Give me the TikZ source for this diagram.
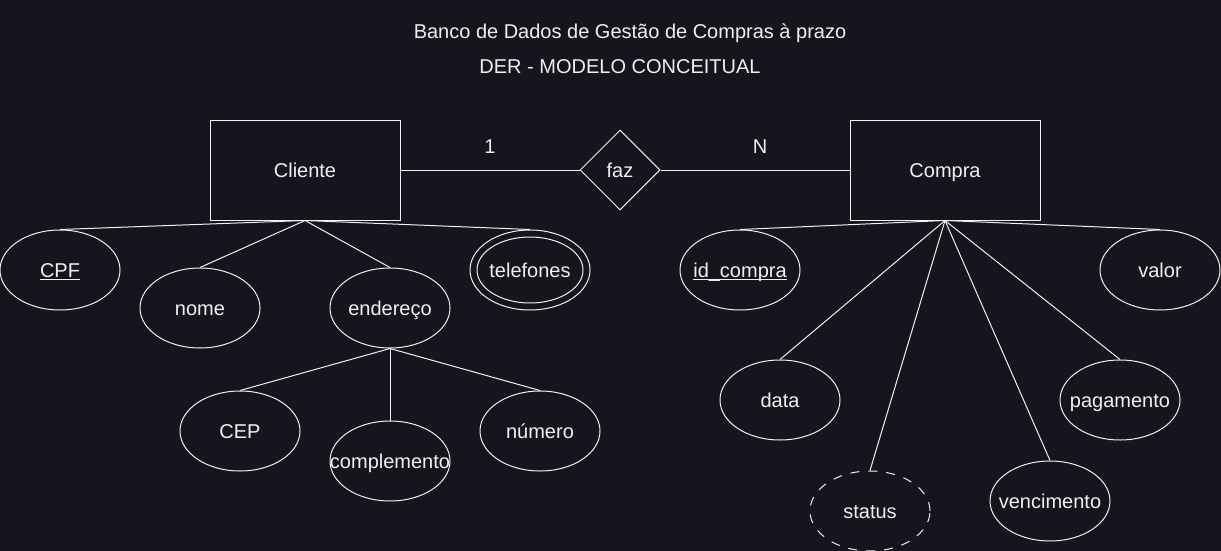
\documentclass[tikz,border=0pt]{standalone}
\usepackage{fontspec}
\setmainfont{Liberation Sans}
\usetikzlibrary{shapes.geometric}
\definecolor{bgdark}{HTML}{18141D}
\definecolor{fgline}{HTML}{F0F0F0}
\newcommand{\keyattr}[1]{\underline{\smash{#1}}}

\begin{document}
\begin{tikzpicture}[x=1pt,y=-1pt,
            every node/.style={text=fgline,font=\fontsize{20}{24}\selectfont,text height=15pt,text depth=0pt},
            entity/.style={draw=fgline,line width=1pt,minimum width=190pt,minimum height=100pt,inner sep=0pt},
            relation/.style={draw=fgline,line width=1pt,diamond,minimum width=80pt,minimum height=80pt,inner sep=0pt},
            attrib/.style={draw=fgline,line width=1pt,ellipse,minimum width=120pt,minimum height=80pt,inner xsep=-45pt,inner ysep=0pt},
            link/.style={draw=fgline,line width=1pt}]
            \fill[bgdark] (0,0) rectangle (1221,551);
            \useasboundingbox (0,0) rectangle (1221,551);

            \node (title) at (630,31) {Banco de Dados de Gestão de Compras à prazo};
            \node (subtitle) at (620,66) {DER - MODELO CONCEITUAL};

            \node (cliente) at (305,170)[entity]{Cliente};
            \node (compra) at (945,170)[entity]{Compra};
            \node (faz) at (620,170)[relation]{faz};
            \node (um) at (490,146) {1};
            \node (ene) at (760,146) {N};
            \draw[link] (cliente.east)--(faz.west);
            \draw[link] (faz.east)--(compra.west);

            \node (cpf) at (60,270)[attrib]{\keyattr{CPF}};
            \node (nome) at (200,308)[attrib]{nome};
            \node (endereco) at (390,308)[attrib]{endereço};
            \node (telefones) at (530,270)[attrib]{telefones};
            \draw[link] (telefones.center) ellipse [x radius=53, y radius=33];
            \node (cep) at (240,431)[attrib]{CEP};
            \node (complemento) at (390,461)[attrib]{complemento};
            \node (numero) at (540,431)[attrib]{número};

            \draw[link] (cliente.south)--(cpf.north);
            \draw[link] (cliente.south)--(nome.north);
            \draw[link] (cliente.south)--(endereco.north);
            \draw[link] (cliente.south)--(telefones.north);
            \draw[link] (endereco.south)--(cep.north);
            \draw[link] (endereco.south)--(complemento.north);
            \draw[link] (endereco.south)--(numero.north);

            \node (idcompra) at (740,270)[attrib]{\keyattr{id\_compra}};
            \node (valor) at (1160,270)[attrib]{valor};
            \node (data) at (780,400)[attrib]{data};
            \node (pagamento) at (1120,400)[attrib]{pagamento};
            \node (status) at (870,511)[attrib,dash pattern=on 9pt off 9pt]{status};
            \node (vencimento) at (1050,501)[attrib]{vencimento};

            \draw[link] (compra.south)--(idcompra.north);
            \draw[link] (compra.south)--(valor.north);
            \draw[link] (compra.south)--(data.north);
            \draw[link] (compra.south)--(pagamento.north);
            \draw[link] (compra.south)--(status.north);
            \draw[link] (compra.south)--(vencimento.north);
        \end{tikzpicture}
\end{document}
